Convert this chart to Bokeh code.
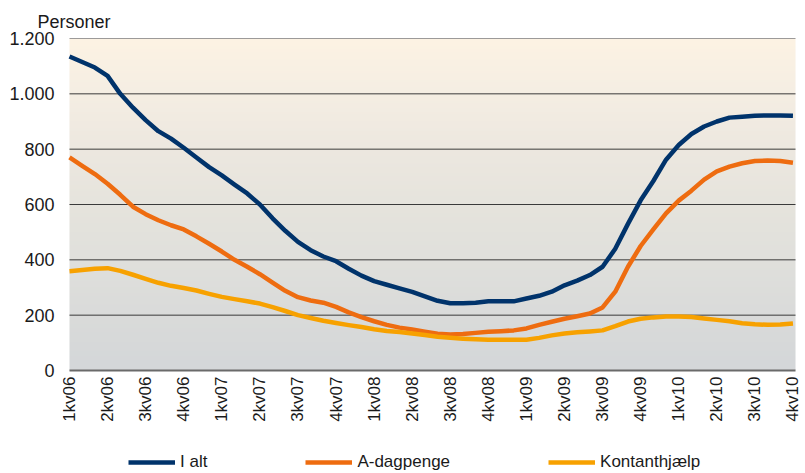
import numpy as np
from math import pi
from bokeh.plotting import figure
from bokeh.models import (Range1d, FixedTicker, Legend, LegendItem, Title)
from bokeh.core.properties import value
from bokeh.embed import file_html
from bokeh.resources import INLINE

# ---- data (monthly, Jan 2006 - Oct 2010) ----
quarter_labels = ["1kv06", "2kv06", "3kv06", "4kv06",
                  "1kv07", "2kv07", "3kv07", "4kv07",
                  "1kv08", "2kv08", "3kv08", "4kv08",
                  "1kv09", "2kv09", "3kv09", "4kv09",
                  "1kv10", "2kv10", "3kv10", "4kv10"]

ialt = [1135, 1115, 1095, 1065, 1000, 950, 905, 865, 838, 805,
        770, 735, 705, 672, 640, 600, 550, 505, 465, 435,
        412, 395, 368, 343, 323, 310, 297, 284, 268, 252,
        243, 243, 245, 250, 250, 250, 260, 270, 285, 308,
        325, 345, 375, 440, 530, 615, 685, 762, 815, 855,
        882, 900, 914, 917, 921, 922, 922, 921]

a_dagpenge = [770, 740, 710, 675, 635, 592, 565, 543, 525, 510,
              485, 458, 430, 400, 375, 348, 318, 288, 265, 253,
              245, 230, 210, 193, 178, 165, 155, 148, 140, 133,
              130, 132, 136, 140, 142, 145, 152, 165, 176, 187,
              196, 206, 228, 285, 375, 450, 510, 568, 614, 650,
              690, 720, 737, 749, 757, 759, 757, 751]

kontanthjaelp = [359, 363, 368, 370, 360, 346, 331, 317, 306, 298,
                 289, 277, 266, 258, 250, 242, 229, 215, 200, 190,
                 180, 172, 164, 157, 149, 143, 139, 134, 128, 122,
                 118, 115, 113, 111, 111, 111, 111, 118, 127, 134,
                 138, 141, 145, 160, 177, 187, 192, 195, 195, 193,
                 188, 183, 178, 171, 167, 165, 166, 170]

y_ticks = [0, 200, 400, 600, 800, 1000, 1200]
y_tick_labels = ["0", "200", "400", "600", "800", "1.000", "1.200"]

months = list(range(len(ialt)))
quarter_pos = months[::3]

FONT = "Liberation Sans"

# ---- layout constants (pixels) ----
W, H = 803, 472
LEFT = 62            # frame left inside figure
TOP = 38             # frame top
PAD = 7              # gap between frame left and chart area
PLOT_W = 726         # width of the drawn chart area
PLOT_H = 332         # height of 0..1200
X_END = 57.2         # data x at right edge of chart area
k = PLOT_W / X_END   # px per month
frame_w = W - LEFT
frame_h = H - TOP
x0 = -PAD / k
x1 = x0 + frame_w / k
y_top = 1200
y_bot = y_top - frame_h * 1200 / PLOT_H

p = figure(width=W, height=H, output_backend="svg", toolbar_location=None,
           x_range=Range1d(x0, x1), y_range=Range1d(y_bot, y_top),
           min_border_left=LEFT, min_border_right=0, min_border_top=TOP,
           min_border_bottom=0, x_axis_location=None)
p.title = Title(text="Personer", align="left", offset=-25, text_font=FONT,
                text_font_size="18px", text_font_style="normal",
                text_color="#1a1a1a", standoff=13)
p.outline_line_color = None
p.background_fill_color = "white"
p.border_fill_color = "white"
p.grid.visible = False

# gradient background of the chart area
stops_y = [0, 200, 400, 600, 800, 1000, 1200]
stops_c = [(212, 215, 217), (218, 219, 218), (224, 224, 220), (230, 228, 221),
           (237, 232, 224), (245, 238, 227), (253, 243, 228)]
n = 300
ys = np.linspace(0, 1200, n)
img = np.empty((n, 1), dtype=np.uint32)
view = img.view(dtype=np.uint8).reshape((n, 1, 4))
for ch in range(3):
    view[:, 0, ch] = np.interp(ys, stops_y, [c[ch] for c in stops_c]).astype(np.uint8)
view[:, 0, 3] = 255
p.image_rgba(image=[img], x=0, y=0, dw=X_END, dh=1200)

# horizontal grid lines (200..1200) across the chart area
grid_y = y_ticks[1:]
p.segment(x0=[0] * len(grid_y), x1=[X_END] * len(grid_y), y0=grid_y, y1=grid_y,
          line_color="#3a3a3a", line_width=1)
# baseline at 0
p.segment(x0=[0], x1=[X_END], y0=[0], y1=[0], line_color="#6a6a6a", line_width=2)

r1 = p.line(months, ialt, line_color="#00336B", line_width=4.5, line_join="round")
r2 = p.line(months, a_dagpenge, line_color="#EE6C10", line_width=4.5, line_join="round")
r3 = p.line(months, kontanthjaelp, line_color="#F7A100", line_width=4.5, line_join="round")

# y axis
p.yaxis.ticker = FixedTicker(ticks=y_ticks)
p.yaxis.major_label_overrides = dict(zip(y_ticks, y_tick_labels))
p.yaxis.axis_line_color = None
p.yaxis.major_tick_line_color = None
p.yaxis.minor_tick_line_color = None
p.yaxis.major_label_standoff = 2
p.yaxis.major_label_text_font = FONT
p.yaxis.major_label_text_font_size = "18px"
p.yaxis.major_label_text_color = "#1a1a1a"

# x tick labels (rotated quarter labels)
p.text(x=quarter_pos, y=[0] * len(quarter_pos), text=quarter_labels,
       angle=pi / 2, text_align="right", text_baseline="middle", y_offset=6,
       text_font=value(FONT), text_font_size="17px", text_color="#1a1a1a")

legend = Legend(items=[LegendItem(label="I alt", renderers=[r1]),
                       LegendItem(label="A-dagpenge", renderers=[r2]),
                       LegendItem(label="Kontanthjælp", renderers=[r3])],
                orientation="horizontal", location=(66, 0),
                padding=0, margin=0, spacing=98, glyph_width=47, glyph_height=20,
                label_height=20, label_standoff=5, label_text_font=FONT,
                label_text_font_size="17px",
                label_text_color="#1a1a1a", border_line_color=None,
                background_fill_alpha=0)
p.add_layout(legend, "center")

open("out.html", "w").write(file_html(p, INLINE))
